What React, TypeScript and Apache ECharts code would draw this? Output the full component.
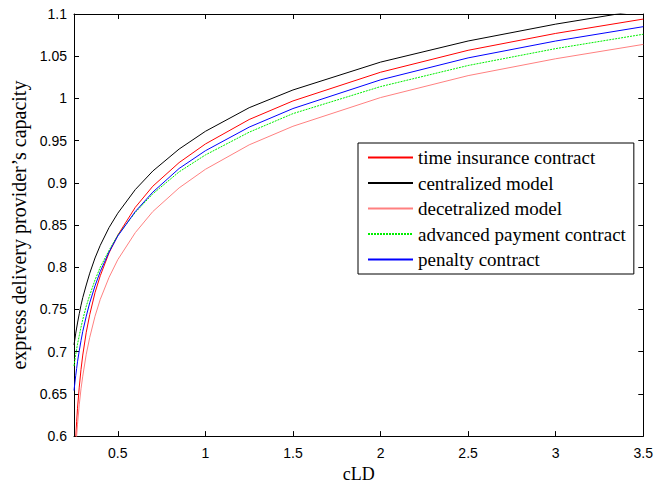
import React, { useEffect, useRef } from "react";
import * as echarts from "echarts";

// x values (cLD) at which the curves were read
const xs = [0.25, 0.255, 0.26, 0.265, 0.27, 0.28, 0.29, 0.3, 0.32, 0.34, 0.37, 0.4, 0.45, 0.5, 0.6, 0.7, 0.85, 1.0, 1.25, 1.5, 2.0, 2.5, 3.0, 3.5];

const timeInsurance = [0.546, 0.576, 0.598, 0.617, 0.633, 0.658, 0.679, 0.696, 0.723, 0.744, 0.77, 0.79, 0.817, 0.838, 0.871, 0.896, 0.924, 0.946, 0.975, 0.997, 1.031, 1.057, 1.077, 1.094];
const centralized = [0.708, 0.715, 0.722, 0.728, 0.734, 0.745, 0.755, 0.764, 0.779, 0.793, 0.811, 0.826, 0.847, 0.864, 0.892, 0.914, 0.94, 0.961, 0.989, 1.01, 1.043, 1.068, 1.088, 1.105];
const decentralized = [0.543, 0.566, 0.585, 0.6, 0.614, 0.637, 0.656, 0.671, 0.697, 0.717, 0.742, 0.762, 0.788, 0.809, 0.841, 0.866, 0.894, 0.916, 0.945, 0.967, 1.001, 1.027, 1.047, 1.064];
const advancedPayment = [0.683, 0.69, 0.697, 0.703, 0.709, 0.719, 0.729, 0.738, 0.754, 0.767, 0.785, 0.8, 0.82, 0.838, 0.865, 0.887, 0.913, 0.933, 0.96, 0.982, 1.014, 1.039, 1.059, 1.076];
const penalty = [0.654, 0.663, 0.672, 0.68, 0.688, 0.701, 0.713, 0.724, 0.742, 0.758, 0.778, 0.795, 0.818, 0.837, 0.866, 0.889, 0.917, 0.938, 0.966, 0.988, 1.022, 1.048, 1.068, 1.085];

const seriesNames = ["time insurance contract", "centralized model", "decetralized model", "advanced payment contract", "penalty contract"];
const xTicks = [0.5, 1, 1.5, 2, 2.5, 3, 3.5];

const SANS = "'Liberation Sans', Arial, Helvetica, sans-serif";
const SERIF = "'Liberation Serif', 'Times New Roman', serif";

export default function App() {
  const ref = useRef<HTMLDivElement>(null);
  useEffect(() => {
    if (!ref.current) return;
    const chart = echarts.init(ref.current, null, { renderer: "svg" });
    const mk = (name: string, vals: number[], color: string, type: any, width = 1) => ({
      name,
      type: "line",
      data: xs.map((x, i) => [x, vals[i]]),
      showSymbol: false,
      symbol: "none",
      clip: true,
      lineStyle: { color, width, type },
      itemStyle: { color },
    });
    const xBase = {
      type: "value",
      min: 0.25,
      max: 3.5,
      splitLine: { show: false },
      axisLine: { show: true, onZero: false, lineStyle: { color: "#000", width: 1 } },
    };
    const yBase = {
      type: "value",
      min: 0.6,
      max: 1.1,
      interval: 0.05,
      splitLine: { show: false },
      axisLine: { show: true, onZero: false, lineStyle: { color: "#000", width: 1 } },
    };
    chart.setOption({
      animation: false,
      backgroundColor: "#fff",
      grid: { left: 74, right: 10, top: 14, bottom: 46, containLabel: false },
      legend: {
        orient: "vertical",
        left: 358,
        top: 143,
        data: seriesNames,
        itemWidth: 45,
        itemHeight: 14,
        itemGap: 6.5,
        padding: [5, 8, 5, 9],
        borderColor: "#000",
        borderWidth: 1,
        backgroundColor: "#fff",
        itemStyle: { opacity: 0 },
        textStyle: { fontFamily: SERIF, fontSize: 19, color: "#000", lineHeight: 19 },
      },
      xAxis: [
        {
          ...xBase,
          position: "bottom",
          name: "cLD",
          nameLocation: "middle",
          nameGap: 28,
          nameTextStyle: { fontFamily: SERIF, fontSize: 18, color: "#000" },
          axisTick: { show: true, inside: true, length: 5, customValues: xTicks, lineStyle: { color: "#000" } },
          axisLabel: { show: true, customValues: xTicks, margin: 10, fontFamily: SANS, fontSize: 14, color: "#000" },
        },
        {
          ...xBase,
          position: "top",
          axisTick: { show: true, inside: true, length: 5, customValues: xTicks, lineStyle: { color: "#000" } },
          axisLabel: { show: false, customValues: xTicks },
        },
      ],
      yAxis: [
        {
          ...yBase,
          position: "left",
          name: "express delivery provider\u2019s capacity",
          nameLocation: "middle",
          nameGap: 45,
          nameTextStyle: { fontFamily: SERIF, fontSize: 20, color: "#000" },
          axisTick: { show: true, inside: true, length: 5, lineStyle: { color: "#000" } },
          axisLabel: { show: true, margin: 7, fontFamily: SANS, fontSize: 14, color: "#000" },
        },
        {
          ...yBase,
          position: "right",
          axisTick: { show: true, inside: true, length: 5, lineStyle: { color: "#000" } },
          axisLabel: { show: false },
        },
      ],
      series: [
        mk(seriesNames[0], timeInsurance, "#ff0000", "solid"),
        mk(seriesNames[1], centralized, "#000000", "solid"),
        mk(seriesNames[2], decentralized, "#ff8080", "solid"),
        mk(seriesNames[3], advancedPayment, "#00ee00", [2, 1]),
        mk(seriesNames[4], penalty, "#0000ff", "solid"),
      ],
    });
    return () => chart.dispose();
  }, []);
  return <div ref={ref} style={{ position: "fixed", left: 0, top: 0, width: 656, height: 488 }} />;
}
